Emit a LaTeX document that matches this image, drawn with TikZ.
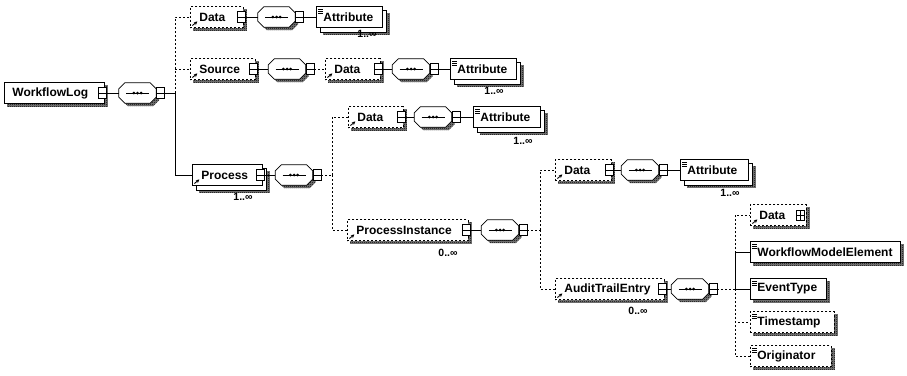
\documentclass[tikz,border=0pt]{standalone}
\usepackage{fontspec}
\setmainfont{Liberation Sans}
\usetikzlibrary{arrows.meta,patterns}
\pgfdeclarelayer{back}
\pgfdeclarelayer{shl}
\pgfdeclarelayer{cpl}
\pgfsetlayers{back,shl,cpl,main}
\pgfdeclarepatternformonly{shdots}{\pgfpointorigin}{\pgfpoint{2pt}{2pt}}{\pgfpoint{2pt}{2pt}}{%
  \pgfpathrectangle{\pgfpointorigin}{\pgfpoint{1pt}{1pt}}%
  \pgfpathrectangle{\pgfpoint{1pt}{1pt}}{\pgfpoint{1pt}{1pt}}%
  \pgfusepath{fill}}
\newcommand\octp[1]{([xshift=6pt]#1.north west) -- ([xshift=-6pt]#1.north east) -- ([yshift=-6pt]#1.north east) -- ([yshift=6pt]#1.south east) -- ([xshift=-6pt]#1.south east) -- ([xshift=6pt]#1.south west) -- ([yshift=6pt]#1.south west) -- ([yshift=-6pt]#1.north west) -- cycle}
\definecolor{shadowgray}{RGB}{125,125,125}
\tikzset{
  shc/.style={fill=shadowgray, postaction={pattern=shdots, pattern color=black}},
  el/.style={draw, fill=white, line width=0.8pt, anchor=west, minimum height=21pt, inner ysep=0pt,
             align=left, font=\bfseries\fontsize{12}{14}\selectfont},
  tw/.style={text width=#1pt},
  opt/.style={dash pattern=on 2pt off 2pt},
  refel/.style={inner xsep=9pt, path picture={\draw[solid, line width=0.9pt, -{Stealth[length=3.5pt,width=3.5pt]}]
      ([shift={(2pt,2pt)}]path picture bounding box.south west) -- ++(5pt,4pt);}},
  simel/.style={inner xsep=7pt, path picture={\foreach \k in {2.5,4.5,6.5}
      \draw[solid, line width=0.6pt] ([shift={(2pt,-\k pt)}]path picture bounding box.north west) -- ++(5pt,0pt);}},
  rootel/.style={inner xsep=8pt},
  btn/.style={draw, solid, fill=white, line width=0.7pt, minimum width=8pt, minimum height=11pt, inner sep=0pt,
      path picture={\draw[line width=0.7pt] (path picture bounding box.west) -- (path picture bounding box.east);}},
  pbtn/.style={draw, solid, fill=white, line width=0.7pt, minimum width=8pt, minimum height=10pt, inner sep=0pt,
      path picture={\draw[line width=0.7pt] (path picture bounding box.west) -- (path picture bounding box.east);
                    \draw[line width=0.7pt] (path picture bounding box.north) -- (path picture bounding box.south);}},
  seq/.style={rectangle, draw=none, minimum width=37pt, minimum height=20pt, inner sep=0pt,
      path picture={\draw[line width=0.8pt] ([xshift=7pt]path picture bounding box.west) -- ([xshift=-7pt]path picture bounding box.east);
                    \foreach \dx in {-3.6,0,3.6} \fill ([xshift=\dx pt]path picture bounding box.center) circle (1.5pt);}},
  octo/.style={draw, fill=white, line width=0.8pt},
  conn/.style={line width=0.8pt},
  mult/.style={font=\bfseries\fontsize{10.5}{12}\selectfont, inner sep=0pt}
}
\begin{document}
\begin{tikzpicture}[x=1pt,y=-1pt]
\begin{pgfonlayer}{back}
\fill[white] (0,0) rectangle (907,375);
\end{pgfonlayer}
\useasboundingbox (0,0) rectangle (907,375);

% root
\node[el, rootel, tw=84] (wl) at (4,93) {WorkflowLog};
\node[btn] (wlb) at ([xshift=-2pt]wl.east) {};
\node[seq] (seqA) at (137.5,93) {};
\node[btn, anchor=west] (seqAb) at (seqA.east) {};
\coordinate (tA) at (175,93);

% Data row 1
\node[el, refel, opt, tw=35] (data1) at (190,17) {Data};
\node[btn] (data1b) at ([xshift=-2pt]data1.east) {};
\node[seq] (seqB) at (276.5,17) {};
\node[btn, anchor=west] (seqBb) at (seqB.east) {};
\node[el, simel, tw=52] (attr1) at (316,17) {Attribute};
\node[mult] (m1) at (367,34) {1..∞};

% Source row
\node[el, refel, opt, tw=47] (source) at (190,69) {Source};
\node[btn] (sourceb) at ([xshift=-2pt]source.east) {};
\node[seq] (seqC) at (287,69) {};
\node[btn, anchor=west] (seqCb) at (seqC.east) {};
\node[el, refel, opt, tw=37] (data2) at (325,69) {Data};
\node[btn] (data2b) at ([xshift=-2pt]data2.east) {};
\node[seq] (seqD) at (411,69) {};
\node[btn, anchor=west] (seqDb) at (seqD.east) {};
\node[el, simel, tw=52] (attr2) at (450,69) {Attribute};
\node[mult] (m2) at (494,91) {1..∞};

% Process
\node[el, refel, tw=52] (process) at (192,175) {Process};
\node[btn] (processb) at ([xshift=-2pt]process.east) {};
\node[mult] (m3) at (243,197) {1..∞};
\node[seq] (seqE) at (294,175) {};
\node[btn, anchor=west] (seqEb) at (seqE.east) {};
\coordinate (tE) at (332,175);

\node[el, refel, opt, tw=37] (data3) at (348,117) {Data};
\node[btn] (data3b) at ([xshift=-2pt]data3.east) {};
\node[seq] (seqF) at (433,117) {};
\node[btn, anchor=west] (seqFb) at (seqF.east) {};
\node[el, simel, tw=53] (attr3) at (473,117) {Attribute};
\node[mult] (m4) at (523,141) {1..∞};

% ProcessInstance
\node[el, refel, opt, tw=103] (procinst) at (347,230) {ProcessInstance};
\node[btn] (procinstb) at ([xshift=-2pt]procinst.east) {};
\node[mult] (m5) at (448,253) {0..∞};
\node[seq] (seqG) at (500,230) {};
\node[btn, anchor=west] (seqGb) at (seqG.east) {};
\coordinate (tG) at (540,230);

\node[el, refel, opt, tw=38] (data4) at (555,170) {Data};
\node[btn] (data4b) at ([xshift=-2pt]data4.east) {};
\node[seq] (seqH) at (640,170) {};
\node[btn, anchor=west] (seqHb) at (seqH.east) {};
\node[el, simel, tw=54] (attr4) at (680,170) {Attribute};
\node[mult] (m6) at (730,193) {1..∞};

% AuditTrailEntry
\node[el, refel, opt, tw=91] (audit) at (555,289) {AuditTrailEntry};
\node[btn] (auditb) at ([xshift=-2pt]audit.east) {};
\node[mult] (m7) at (638,311) {0..∞};
\node[seq] (seqI) at (690,289) {};
\node[btn, anchor=west] (seqIb) at (seqI.east) {};
\coordinate (tI) at (735,289);

\node[el, refel, opt, tw=38] (data5) at (750,215) {Data};
\node[pbtn] (data5b) at ([xshift=-6pt]data5.east) {};
\node[el, simel, tw=136] (wme) at (750,252) {WorkflowModelElement};
\node[el, simel, tw=62] (et) at (750,289) {EventType};
\node[el, simel, opt, tw=70] (ts) at (750,322) {Timestamp};
\node[el, simel, opt, tw=67] (orig) at (750,356) {Originator};

% shadows, stacked copies and compositor outlines
\begin{pgfonlayer}{shl}
\foreach \n in {wl,data1,source,data2,data3,procinst,data4,audit,data5,wme,et,ts,orig}
  \fill[shc] ([shift={(3pt,-3pt)}]\n.north west) rectangle ([shift={(3pt,-3pt)}]\n.south east);
\foreach \n in {attr1,attr2,attr3,attr4,process}
  \fill[shc] ([shift={(7pt,-7pt)}]\n.north west) rectangle ([shift={(7pt,-7pt)}]\n.south east);
\foreach \n in {seqA,seqB,seqC,seqD,seqE,seqF,seqG,seqH,seqI}
  \fill[shc, transform canvas={shift={(3pt,-3pt)}}] \octp{\n};
\end{pgfonlayer}
\begin{pgfonlayer}{cpl}
\foreach \n in {attr1,attr2,attr3,attr4,process}
  \draw[fill=white, line width=0.8pt] ([shift={(4pt,-4pt)}]\n.north west) rectangle ([shift={(4pt,-4pt)}]\n.south east);
\foreach \n in {seqA,seqB,seqC,seqD,seqE,seqF,seqG,seqH,seqI}
  \draw[octo] \octp{\n};
\end{pgfonlayer}

% connectors
\draw[conn] (wlb.east) -- (seqA.west);
\draw[conn] (seqAb.east) -- (tA);
\draw[conn,opt] (tA) |- (data1.west);
\draw[conn,opt] (tA |- source.west) -- (source.west);
\draw[conn] (tA) |- (process.west);

\draw[conn] (data1b.east) -- (seqB.west);
\draw[conn] (seqBb.east) -- (attr1.west);

\draw[conn] (sourceb.east) -- (seqC.west);
\draw[conn,opt] (seqCb.east) -- (data2.west);
\draw[conn] (data2b.east) -- (seqD.west);
\draw[conn] (seqDb.east) -- (attr2.west);

\draw[conn] (processb.east) -- (seqE.west);
\draw[conn,opt] (seqEb.east) -- (tE);
\draw[conn,opt] (tE) |- (data3.west);
\draw[conn,opt] (tE) |- (procinst.west);

\draw[conn] (data3b.east) -- (seqF.west);
\draw[conn] (seqFb.east) -- (attr3.west);

\draw[conn] (procinstb.east) -- (seqG.west);
\draw[conn,opt] (seqGb.east) -- (tG);
\draw[conn,opt] (tG) |- (data4.west);
\draw[conn,opt] (tG) |- (audit.west);

\draw[conn] (data4b.east) -- (seqH.west);
\draw[conn] (seqHb.east) -- (attr4.west);

\draw[conn] (auditb.east) -- (seqI.west);
\draw[conn,opt] (seqIb.east) -- (tI);
\draw[conn,opt] (tI) |- (data5.west);
\draw[conn,opt] (tI) |- (ts.west);
\draw[conn,opt] (tI) |- (orig.west);
\draw[conn] (tI |- wme.west) -- (wme.west);
\draw[conn] (tI |- wme.west) -- (tI) -- (et.west);
\end{tikzpicture}
\end{document}
